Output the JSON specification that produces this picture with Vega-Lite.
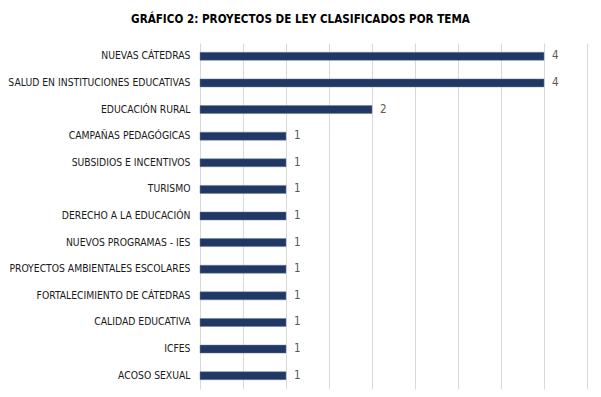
{
  "$schema": "https://vega.github.io/schema/vega-lite/v6.json",
  "autosize": {"type": "none"},
  "width": 387,
  "height": 346,
  "padding": {"left": 200, "top": 43, "right": 14, "bottom": 8},
  "background": "white",
  "title": {
    "text": "GRÁFICO 2: PROYECTOS DE LEY CLASIFICADOS POR TEMA",
    "font": "DejaVu Sans Condensed",
    "fontSize": 11.6,
    "fontWeight": "bold",
    "color": "#000000",
    "anchor": "middle",
    "dx": -93,
    "offset": 17
  },
  "config": {"view": {"stroke": null}},
  "data": {
    "values": [
      {"tema": "NUEVAS CÁTEDRAS", "n": 4},
      {"tema": "SALUD EN INSTITUCIONES EDUCATIVAS", "n": 4},
      {"tema": "EDUCACIÓN RURAL", "n": 2},
      {"tema": "CAMPAÑAS PEDAGÓGICAS", "n": 1},
      {"tema": "SUBSIDIOS E INCENTIVOS", "n": 1},
      {"tema": "TURISMO", "n": 1},
      {"tema": "DERECHO A LA EDUCACIÓN", "n": 1},
      {"tema": "NUEVOS PROGRAMAS - IES", "n": 1},
      {"tema": "PROYECTOS AMBIENTALES ESCOLARES", "n": 1},
      {"tema": "FORTALECIMIENTO DE CÁTEDRAS", "n": 1},
      {"tema": "CALIDAD EDUCATIVA", "n": 1},
      {"tema": "ICFES", "n": 1},
      {"tema": "ACOSO SEXUAL", "n": 1}
    ]
  },
  "encoding": {
    "y": {
      "field": "tema",
      "type": "nominal",
      "sort": null,
      "scale": {"paddingInner": 0.7, "paddingOuter": 0.35},
      "axis": {
        "title": null,
        "domain": false,
        "ticks": false,
        "labelPadding": 10,
        "labelFont": "DejaVu Sans Condensed",
        "labelFontSize": 10.3,
        "labelColor": "#1a1a1a",
        "labelLimit": 300
      }
    },
    "x": {
      "field": "n",
      "type": "quantitative",
      "scale": {"domain": [0, 4.5], "nice": false},
      "axis": {
        "title": null,
        "labels": false,
        "ticks": false,
        "domain": false,
        "grid": true,
        "gridColor": "#d9d9d9",
        "gridWidth": 1,
        "values": [0, 0.5, 1, 1.5, 2, 2.5, 3, 3.5, 4, 4.5]
      }
    }
  },
  "layer": [
    {
      "mark": {"type": "bar", "color": "#203864", "stroke": "#6d7f9e", "strokeWidth": 0.5}
    },
    {
      "mark": {
        "type": "text",
        "align": "left",
        "baseline": "middle",
        "dx": 8,
        "font": "DejaVu Sans Condensed",
        "fontSize": 11.5,
        "color": "#595959"
      },
      "encoding": {"text": {"field": "n", "type": "quantitative"}}
    }
  ]
}
